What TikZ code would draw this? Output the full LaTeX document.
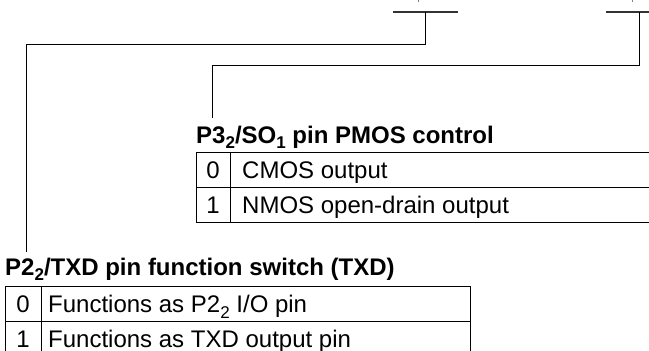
\documentclass[tikz,border=0pt]{standalone}
\usepackage{fontspec}
\setmainfont{Liberation Sans}
\newcommand{\lowsub}[1]{\raisebox{-5.5pt}{\fontsize{17}{20}\selectfont #1}}
\begin{document}
\begin{tikzpicture}[x=1pt,y=-1pt,
  wire/.style={draw=black,line width=1pt},
  bar/.style={draw=black!80,line width=1.4pt},
  grid/.style={draw=black,line width=1pt},
  ttl/.style={anchor=base west,inner sep=0pt,font=\fontsize{24}{28}\selectfont\bfseries},
  txt/.style={anchor=base west,inner sep=0pt,font=\fontsize{24}{28}\selectfont},
  bit/.style={anchor=base,inner sep=0pt,font=\fontsize{24}{28}\selectfont}]
\clip (0,0) rectangle (649,351);
\useasboundingbox (0,0) rectangle (649,351);
% top bars
\coordinate (b1l) at (393,12); \coordinate (b1r) at (458,12);
\coordinate (b2l) at (606,12); \coordinate (b2r) at (660,12);
\draw[bar] (b1l) -- (b1r);
\draw[bar] (b2l) -- (b2r);
\coordinate (t1a) at (418,0); \coordinate (t1b) at (418,2);
\coordinate (t2a) at (632,0); \coordinate (t2b) at (632,2);
\draw[wire,draw=black!50] (t1a) -- (t1b);
\draw[wire,draw=black!50] (t2a) -- (t2b);
% connectors
\coordinate (c1) at (425,12); \coordinate (e1) at (26,252);
\coordinate (c2) at (639,12); \coordinate (e2) at (212,118);
\draw[wire] (c1) |- (26,44) -- (e1);
\draw[wire] (c2) |- (212,65) -- (e2);
% upper table
\node[ttl] (t3) at (196,143) {P3\lowsub{\bfseries 2}/SO\lowsub{\bfseries 1} pin PMOS control};
\draw[grid] (680,152.5) -- (196,152.5) -- (196,222.5) -- (680,222.5);
\draw[grid] (196,187.5) -- (680,187.5);
\draw[grid] (230,152.5) -- (230,222.5);
\node[bit] (u0) at (213,178.6) {0};
\node[txt] (u0t) at (242,178.6) {CMOS output};
\node[bit] (u1) at (213,213.6) {1};
\node[txt] (u1t) at (242,213.6) {NMOS open-drain output};
% lower table
\node[ttl] (t2) at (5,275) {P2\lowsub{\bfseries 2}/TXD pin function switch (TXD)};
\draw[grid] (5,286.7) rectangle (470,356.7);
\draw[grid] (5,321.7) -- (470,321.7);
\draw[grid] (41,286.7) -- (41,356.7);
\node[bit] (l0) at (23,312.8) {0};
\node[txt] (l0t) at (48,312.8) {Functions as P2\lowsub{2} I/O pin};
\node[bit] (l1) at (23,347.3) {1};
\node[txt] (l1t) at (48,347.3) {Functions as TXD output pin};
\end{tikzpicture}
\end{document}
